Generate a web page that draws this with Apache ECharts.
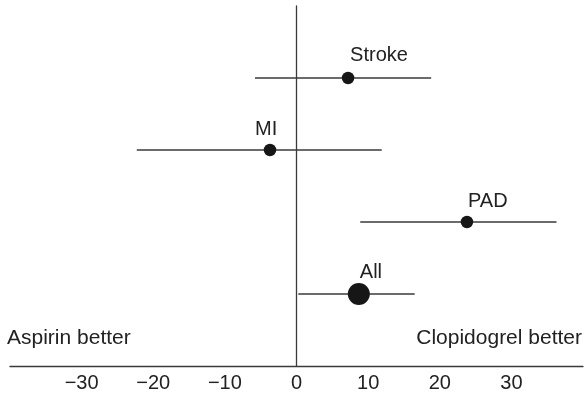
<!DOCTYPE html>
<html>
<head>
<meta charset="utf-8">
<script src="https://cdn.jsdelivr.net/npm/echarts@6/dist/echarts.min.js"></script>
<style>
  html, body { margin: 0; padding: 0; background: #ffffff; }
  #chart { width: 587px; height: 396px; }
</style>
</head>
<body>
<div id="chart"></div>
<script>
// ---- Data ----
var categories = ['Stroke', 'MI', 'PAD', 'All'];
var rows       = [4, 3, 2, 1];            // vertical row index of each category
var estimates  = [7.2, -3.7, 23.8, 8.7];  // point estimate
var lower      = [-5.8, -22.3, 8.9, 0.25];
var upper      = [18.8, 11.9, 36.3, 16.5];
var xTicks     = [-30, -20, -10, 0, 10, 20, 30];
var leftNote   = 'Aspirin better';
var rightNote  = 'Clopidogrel better';

// ---- Styles ----
var FONT = '"Liberation Sans", Arial, Helvetica, sans-serif';
var TEXT = '#222222';
var LINE = '#3a3a3a';
var DOT = '#161616';
var labelOffsets = { Stroke: [2, -23], MI: [-15, -21], PAD: [1, -21], All: [1, -22] };

var ciData = rows.map(function (r, i) { return [r, lower[i], upper[i]]; });
var ptData = rows.map(function (r, i) { return { name: categories[i], value: [estimates[i], r] }; });

var chart = echarts.init(document.getElementById('chart'), null, { renderer: 'canvas' });
chart.setOption({
  animation: false,
  backgroundColor: '#ffffff',
  grid: { left: 10, right: 4, top: 6, bottom: 30, containLabel: false },
  xAxis: {
    type: 'value', min: -40, max: 40, interval: 10,
    axisLine: { show: true, onZero: false, lineStyle: { color: LINE, width: 1.3 } },
    axisTick: { show: false },
    splitLine: { show: false },
    axisLabel: {
      show: true, margin: 7, fontFamily: FONT, fontSize: 20, color: TEXT,
      formatter: function (v) {
        if (xTicks.indexOf(v) < 0) return '';
        return String(v).replace('-', '\u2212');
      }
    }
  },
  yAxis: {
    type: 'value', min: 0, max: 5,
    axisLine: { show: true, onZero: true, lineStyle: { color: LINE, width: 1.3 } },
    axisTick: { show: false },
    axisLabel: { show: false },
    splitLine: { show: false }
  },
  series: [
    {
      type: 'custom',
      data: ciData,
      encode: { x: [1, 2], y: 0 },
      z: 2,
      renderItem: function (params, api) {
        var y = api.value(0);
        var p1 = api.coord([api.value(1), y]);
        var p2 = api.coord([api.value(2), y]);
        return {
          type: 'line',
          shape: { x1: p1[0], y1: p1[1], x2: p2[0], y2: p2[1] },
          style: { stroke: LINE, lineWidth: 1.3 }
        };
      }
    },
    {
      type: 'scatter',
      data: ptData,
      z: 3,
      symbol: 'circle',
      symbolSize: function (val, params) { return params.name === 'All' ? 22 : 12.5; },
      itemStyle: { color: DOT, opacity: 1 },
      emphasis: { disabled: true },
      label: {
        show: true,
        position: 'inside',
        align: 'left',
        verticalAlign: 'middle',
        fontFamily: FONT, fontSize: 20, color: TEXT,
        textBorderWidth: 0, opacity: 1,
        formatter: function (p) { return p.name; }
      },
      labelLayout: function (params) {
        var o = labelOffsets[categories[params.dataIndex]];
        return { dx: o[0], dy: o[1] };
      }
    }
  ],
  graphic: [
    { type: 'text', x: 7, y: 338, style: { text: leftNote, font: '21px ' + FONT, fill: TEXT, align: 'left', verticalAlign: 'middle' } },
    { type: 'text', x: 582, y: 338, style: { text: rightNote, font: '21px ' + FONT, fill: TEXT, align: 'right', verticalAlign: 'middle' } }
  ]
});
</script>
</body>
</html>
